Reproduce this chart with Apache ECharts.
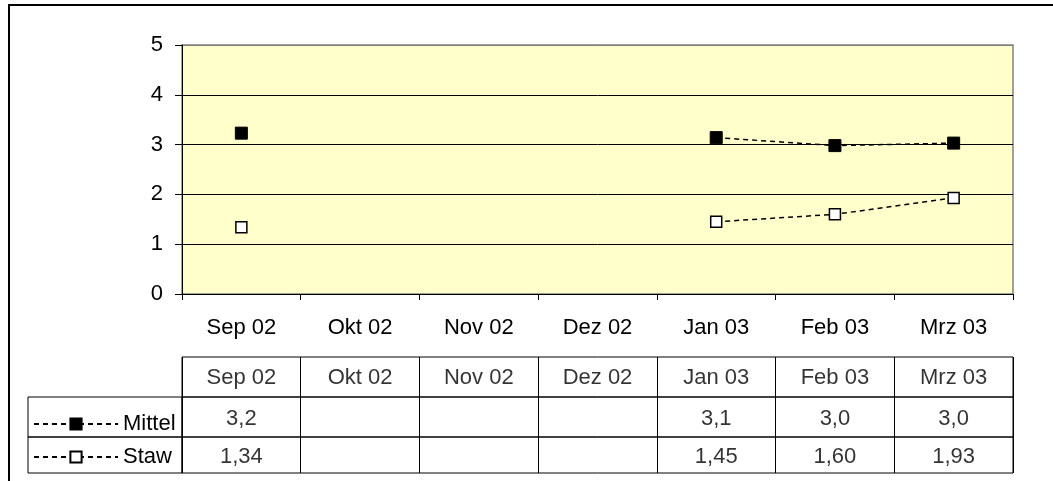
<!DOCTYPE html>
<html>
<head>
<meta charset="utf-8">
<script src="https://cdn.jsdelivr.net/npm/echarts@6/dist/echarts.min.js"></script>
<style>
html,body{margin:0;padding:0;background:#fff;}
#c{width:1053px;height:481px;}
</style>
</head>
<body>
<div id="c"></div>
<script>
// ---- data ----
const categories = ['Sep 02', 'Okt 02', 'Nov 02', 'Dez 02', 'Jan 03', 'Feb 03', 'Mrz 03'];
const mittel = [3.23, null, null, null, 3.14, 2.98, 3.03];
const staw = [1.34, null, null, null, 1.45, 1.60, 1.93];
const seriesNames = ['Mittel', 'Staw'];
const mittelDecimals = 1;
const stawDecimals = 2;
const yTicks = [0, 1, 2, 3, 4, 5];

const FONT = "'Liberation Sans', Arial, sans-serif";
const FS = 22;
const fmt = (v, d) => v == null ? null : v.toFixed(d).replace('.', ',');

function cellSeries(values, gridIdx, d, dy) {
  const data = [];
  values.forEach((v, i) => {
    const t = typeof v === 'string' ? v : fmt(v, d);
    if (t != null) data.push([i, 0.5, t]);
  });
  return {
    type: 'scatter', xAxisIndex: gridIdx, yAxisIndex: gridIdx,
    symbolSize: 0, data: data, silent: true,
    label: {
      show: true, position: 'inside', offset: [0, dy], color: '#000', fontSize: FS, fontFamily: FONT,
      formatter: p => p.value[2]
    }
  };
}

function tableX(gridIdx, show) {
  return {
    type: 'category', gridIndex: gridIdx, data: categories, boundaryGap: true,
    show: show,
    axisLine: { show: false }, axisTick: { show: false }, axisLabel: { show: false },
    splitLine: { show: show, interval: 0, lineStyle: { color: '#000', width: 1 } }
  };
}
function tableY(gridIdx) {
  return { type: 'value', gridIndex: gridIdx, min: 0, max: 1, show: false };
}

const chart = echarts.init(document.getElementById('c'), null, { renderer: 'canvas' });
const option = {
  animation: false,
  textStyle: { fontFamily: FONT },
  graphic: [{
    type: 'rect', shape: { x: 9, y: 5, width: 2000, height: 1000 },
    style: { fill: 'none', stroke: '#000', lineWidth: 2 }, silent: true, z: -10
  }],
  grid: [
    { left: 182, right: 40, top: 45, height: 249, show: true, backgroundColor: '#FFFFCC', borderColor: '#808080', borderWidth: 1.5 },
    { left: 182, right: 40, top: 357, height: 40, show: true, borderColor: '#000', borderWidth: 1 },
    { left: 182, right: 40, top: 397, height: 40, show: true, borderColor: '#000', borderWidth: 1 },
    { left: 182, right: 40, top: 437, height: 36, show: true, borderColor: '#000', borderWidth: 1 },
    { left: 28, width: 154, top: 397, height: 40, show: true, borderColor: '#000', borderWidth: 1 },
    { left: 28, width: 154, top: 437, height: 36, show: true, borderColor: '#000', borderWidth: 1 }
  ],
  xAxis: [
    {
      type: 'category', gridIndex: 0, data: categories, boundaryGap: true,
      axisLine: { lineStyle: { color: '#000', width: 1 } },
      axisTick: { show: true, interval: 0, length: 6, lineStyle: { color: '#000' } },
      axisLabel: { interval: 0, color: '#000', fontSize: FS, fontFamily: FONT, margin: 23 },
      splitLine: { show: false }
    },
    tableX(1, true), tableX(2, true), tableX(3, true), tableX(4, false), tableX(5, false)
  ],
  yAxis: [
    {
      type: 'value', gridIndex: 0, min: yTicks[0], max: yTicks[yTicks.length - 1], interval: 1,
      axisLine: { show: true, lineStyle: { color: '#000', width: 1 } },
      axisTick: { show: true, length: 7, lineStyle: { color: '#000' } },
      axisLabel: { color: '#000', fontSize: FS, fontFamily: FONT, margin: 19 },
      splitLine: { show: true, lineStyle: { color: ['#000', '#000', '#000', '#000', '#000', '#808080'], width: 1 } }
    },
    tableY(1), tableY(2), tableY(3), tableY(4), tableY(5)
  ],
  legend: [
    {
      data: [seriesNames[0]], left: 33, top: 413, padding: 0, itemWidth: 84, itemHeight: 14, itemGap: 5,
      textStyle: { color: '#000', fontSize: FS, fontFamily: FONT }
    },
    {
      data: [seriesNames[1]], left: 33, top: 446, padding: 0, itemWidth: 84, itemHeight: 14, itemGap: 5,
      textStyle: { color: '#000', fontSize: FS, fontFamily: FONT }
    }
  ],
  series: [
    {
      name: seriesNames[0], type: 'line', xAxisIndex: 0, yAxisIndex: 0, data: mittel,
      connectNulls: false, symbol: 'rect', symbolSize: 12,
      itemStyle: { color: '#000', borderColor: '#000', borderWidth: 1 },
      lineStyle: { color: '#000', width: 1.5, type: [5, 4] }, z: 5
    },
    {
      name: seriesNames[1], type: 'line', xAxisIndex: 0, yAxisIndex: 0, data: staw,
      connectNulls: false, symbol: 'rect', symbolSize: 11,
      itemStyle: { color: '#fff', borderColor: '#000', borderWidth: 1.5 },
      lineStyle: { color: '#000', width: 1.5, type: [5, 4] }, z: 5
    },
    cellSeries(categories, 1, 0, 1),
    cellSeries(mittel, 2, mittelDecimals, 2),
    cellSeries(staw, 3, stawDecimals, 2)
  ]
};
chart.setOption(option);
</script>
</body>
</html>
